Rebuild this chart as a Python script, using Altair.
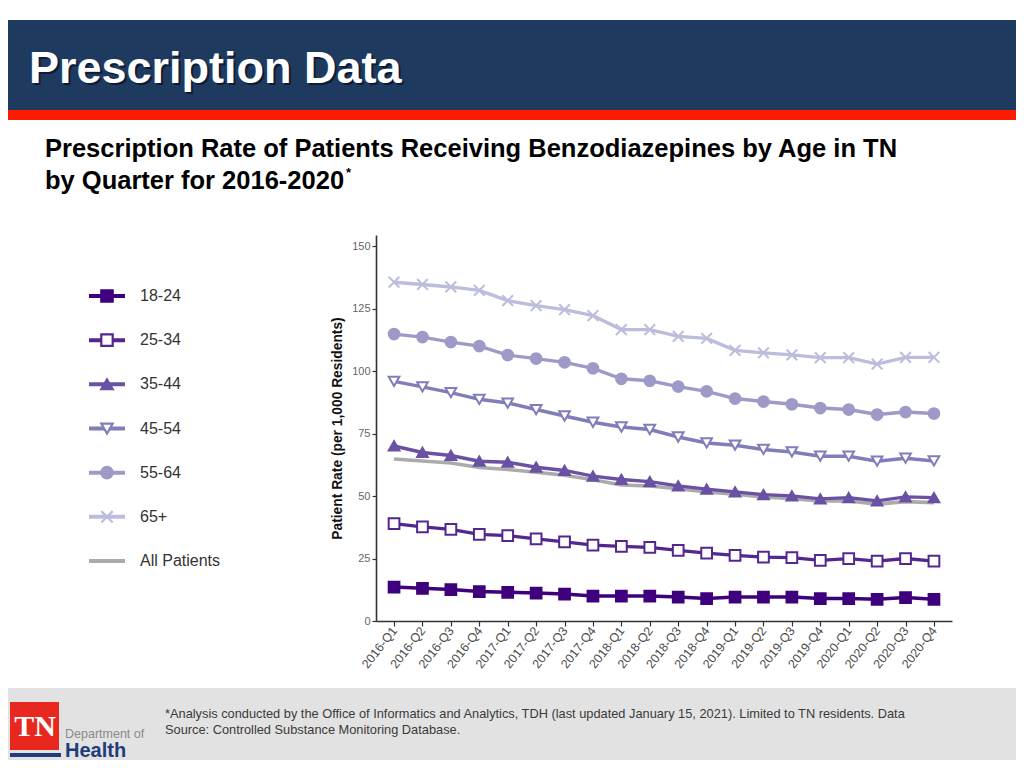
import altair as alt
import pandas as pd

# ---------------- data ----------------
QUARTERS = ["2016-Q1", "2016-Q2", "2016-Q3", "2016-Q4",
            "2017-Q1", "2017-Q2", "2017-Q3", "2017-Q4",
            "2018-Q1", "2018-Q2", "2018-Q3", "2018-Q4",
            "2019-Q1", "2019-Q2", "2019-Q3", "2019-Q4",
            "2020-Q1", "2020-Q2", "2020-Q3", "2020-Q4"]

AGE_18_24 = [13.6, 13.1, 12.6, 11.8, 11.5, 11.2, 10.8, 10.0, 10.0, 10.0,
             9.6, 9.0, 9.6, 9.6, 9.6, 9.0, 9.0, 8.7, 9.4, 8.7]
AGE_25_34 = [39.0, 37.7, 36.7, 34.7, 34.2, 32.9, 31.7, 30.4, 29.9, 29.5,
             28.3, 27.2, 26.3, 25.6, 25.4, 24.3, 25.0, 24.0, 25.0, 24.0]
AGE_35_44 = [70.1, 67.5, 66.3, 64.0, 63.6, 61.6, 60.3, 58.0, 56.7, 55.8,
             54.1, 52.8, 51.7, 50.6, 50.1, 48.9, 49.4, 48.1, 49.7, 49.4]
AGE_45_54 = [96.0, 93.8, 91.5, 88.8, 87.3, 84.7, 82.1, 79.6, 77.7, 76.7,
             73.7, 71.3, 70.4, 68.7, 67.7, 66.0, 66.0, 64.0, 65.2, 64.1]
AGE_55_64 = [114.9, 113.7, 111.7, 110.1, 106.5, 105.1, 103.6, 101.2, 97.0, 96.2,
             93.9, 92.0, 89.1, 87.9, 86.8, 85.3, 84.7, 82.7, 83.7, 83.1]
AGE_65_UP = [135.7, 134.8, 133.8, 132.4, 128.3, 126.3, 124.7, 122.3, 116.7, 116.7,
             114.0, 113.2, 108.4, 107.4, 106.6, 105.5, 105.5, 102.9, 105.6, 105.6]
ALL_PATIENTS = [64.9, 64.1, 63.3, 61.5, 60.7, 59.6, 58.4, 56.6, 54.5, 54.1,
                53.0, 51.7, 50.8, 49.7, 49.0, 48.1, 48.1, 46.8, 47.8, 47.4]

SERIES = ["18-24", "25-34", "35-44", "45-54", "55-64", "65+", "All Patients"]
AGE_SERIES = SERIES[:6]
VALUES = [AGE_18_24, AGE_25_34, AGE_35_44, AGE_45_54, AGE_55_64, AGE_65_UP, ALL_PATIENTS]

COLORS = ["#3f007d", "#54278f", "#6a51a3", "#807dba", "#9e9ac8", "#bcbddc", "#ababab"]
FILLS = ["#3f007d", "#ffffff", "#6a51a3", "#ffffff", "#9e9ac8", "#bcbddc"]
SHAPES = ["square", "square", "triangle-up", "triangle-down", "circle",
          "M-1,-1L1,1M-1,1L1,-1"]

Y_TICKS = [0, 25, 50, 75, 100, 125, 150]

TITLE = "Prescription Data"
SUB1 = "Prescription Rate of Patients Receiving Benzodiazepines by Age in TN"
SUB2 = "by Quarter for 2016-2020"
Y_TITLE = "Patient Rate (per 1,000 Residents)"
NOTE1 = ("*Analysis conducted by the Office of Informatics and Analytics, TDH "
         "(last updated January 15, 2021). Limited to TN residents. Data")
NOTE2 = "Source: Controlled Substance Monitoring Database."

rows = []
for s, vals in zip(SERIES, VALUES):
    for q, v in zip(QUARTERS, vals):
        rows.append({"quarter": q, "series": s, "value": v})
df = pd.DataFrame(rows)
legend_df = pd.DataFrame({"series": SERIES})
one = pd.DataFrame({"k": [0]})

FONT = "Liberation Sans"

# ---------------- scales ----------------
x_enc = alt.X("quarter:N", sort=QUARTERS,
              scale=alt.Scale(type="point", padding=0.635),
              axis=alt.Axis(title=None, labelAngle=-52, labelFontSize=12.5,
                            labelColor="#4d4d4d", labelFont=FONT,
                            tickSize=5, tickColor="#333", tickWidth=1.2,
                            domainColor="#333", domainWidth=1.6,
                            labelPadding=2, grid=False))
y_scale = alt.Scale(domain=[0, 154.6], nice=False, zero=True)
y_axis = alt.Axis(values=Y_TICKS, title=Y_TITLE, titleFont=FONT, titleFontSize=13.8,
                  titleFontWeight="bold", titleColor="#111", titlePadding=7,
                  labelFontSize=11, labelColor="#666", labelFont=FONT,
                  tickSize=4, tickColor="#333", tickWidth=1.2,
                  domainColor="#333", domainWidth=1.6, grid=False, labelPadding=2)

color_scale = alt.Scale(domain=SERIES, range=COLORS)
stroke_scale = alt.Scale(domain=AGE_SERIES, range=COLORS[:6])
fill_scale = alt.Scale(domain=AGE_SERIES, range=FILLS)
shape_scale = alt.Scale(domain=AGE_SERIES, range=SHAPES)

# ---------------- chart layers ----------------
all_line = alt.Chart(df).transform_filter(
    alt.datum.series == "All Patients"
).mark_line(strokeWidth=3.6).encode(
    x=x_enc,
    y=alt.Y("value:Q", scale=y_scale, axis=y_axis),
    color=alt.Color("series:N", scale=color_scale, legend=None),
)

age_lines = alt.Chart(df).transform_filter(
    alt.datum.series != "All Patients"
).mark_line(strokeWidth=3.4).encode(
    x=x_enc,
    y=alt.Y("value:Q", scale=y_scale, axis=None),
    color=alt.Color("series:N", scale=color_scale, legend=None),
)

age_points = alt.Chart(df).transform_filter(
    alt.datum.series != "All Patients"
).mark_point(filled=True, opacity=1, strokeWidth=2, size=115).encode(
    x=x_enc,
    y=alt.Y("value:Q", scale=y_scale, axis=None),
    fill=alt.Fill("series:N", scale=fill_scale, legend=None),
    stroke=alt.Stroke("series:N", scale=stroke_scale, legend=None),
    shape=alt.Shape("series:N", scale=shape_scale, legend=None),
)

# ---------------- custom legend (left) ----------------
leg_y = alt.Y("series:N", scale=alt.Scale(type="point", domain=SERIES,
                                          range=[61, 326], padding=0), axis=None)
leg_rule = alt.Chart(legend_df).mark_rule(strokeWidth=4).encode(
    x=alt.value(-287), x2=alt.value(-251), y=leg_y,
    color=alt.Color("series:N", scale=color_scale, legend=None),
)
leg_pts = alt.Chart(legend_df).transform_filter(
    alt.datum.series != "All Patients"
).mark_point(filled=True, opacity=1, strokeWidth=2.2, size=130).encode(
    x=alt.value(-269), y=leg_y,
    fill=alt.Fill("series:N", scale=fill_scale, legend=None),
    stroke=alt.Stroke("series:N", scale=stroke_scale, legend=None),
    shape=alt.Shape("series:N", scale=shape_scale, legend=None),
)
leg_text = alt.Chart(legend_df).mark_text(
    align="left", baseline="middle", fontSize=16, font=FONT, color="#333"
).encode(x=alt.value(-236), y=leg_y, text="series:N")

# ---------------- slide decorations ----------------
def rect(x1, x2, y1, y2, color):
    return alt.Chart(one).mark_rect(color=color).encode(
        x=alt.value(x1), x2=alt.value(x2), y=alt.value(y1), y2=alt.value(y2))

def label(txt, x, y, **kw):
    return alt.Chart(one).mark_text(text=txt, **kw).encode(
        x=alt.value(x), y=alt.value(y))

banner = rect(-368, 640, -215, -125, "#1e3a5f")
red = rect(-368, 640, -125, -115, "#fd1b02")
footer = rect(-368, 640, 453, 530, "#e2e2e2")

title_shadow = label(TITLE, -345, -150, align="left", baseline="alphabetic",
                     fontSize=45, fontWeight="bold", font=FONT, color="#081326", opacity=0.75)
title = label(TITLE, -347, -152, align="left", baseline="alphabetic",
              fontSize=45, fontWeight="bold", font=FONT, color="#ffffff")
sub1 = label(SUB1, -331, -78, align="left", baseline="alphabetic",
             fontSize=25.5, fontWeight="bold", font=FONT, color="#000")
sub2 = label(SUB2, -331, -46, align="left", baseline="alphabetic",
             fontSize=25.5, fontWeight="bold", font=FONT, color="#000")
star = label("*", -30, -58, align="left", baseline="alphabetic",
             fontSize=13, fontWeight="bold", font=FONT, color="#000")

note1 = label(NOTE1, -211, 483, align="left", baseline="alphabetic",
              fontSize=12.8, font=FONT, color="#3a3a3a")
note2 = label(NOTE2, -211, 499, align="left", baseline="alphabetic",
              fontSize=12.8, font=FONT, color="#3a3a3a")

logo_red = rect(-366, -317, 467, 515, "#e8281e")
logo_bar = rect(-366, -315, 518, 522, "#1f3d7a")
logo_tn = label("TN", -341, 501, align="center", baseline="alphabetic",
                fontSize=30, fontWeight="bold", font="Liberation Serif", color="#ffffff")
logo_dep = label("Department of", -311, 503, align="left", baseline="alphabetic",
                 fontSize=12.5, font=FONT, color="#8a8a8a")
logo_health = label("Health", -311, 522, align="left", baseline="alphabetic",
                    fontSize=20, fontWeight="bold", font=FONT, color="#1f3d7a")

chart = alt.layer(
    banner, red, footer, title_shadow, title, sub1, sub2, star,
    note1, note2, logo_red, logo_bar, logo_tn, logo_dep, logo_health,
    all_line, age_lines, age_points, leg_rule, leg_pts, leg_text,
).resolve_scale(
    y="independent"
).properties(
    width=576, height=386,
    autosize=alt.AutoSizeParams(type="none"),
    padding={"left": 368, "top": 227, "right": 64, "bottom": 139},
    background="#ffffff",
).configure_view(stroke=None)

chart.save("out.html", embed_options={"renderer": "svg", "actions": False})
